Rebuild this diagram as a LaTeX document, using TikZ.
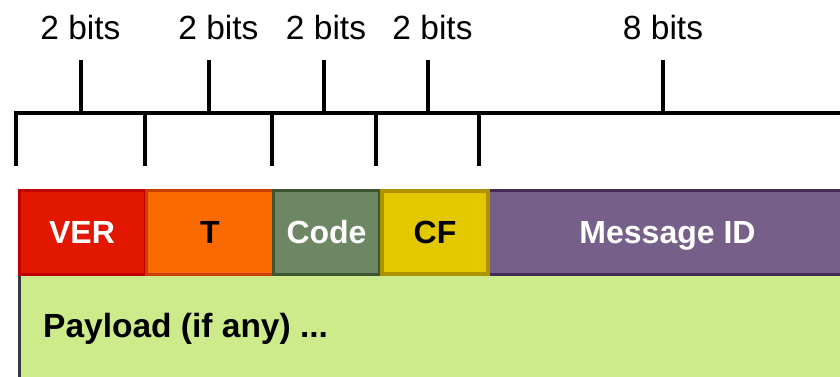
\documentclass[tikz,border=0pt]{standalone}
\usepackage{fontspec}
\setmainfont{Liberation Sans}
\definecolor{verF}{HTML}{E31600}\definecolor{verD}{HTML}{C00000}
\definecolor{tF}{HTML}{F96A00}\definecolor{tD}{HTML}{C84000}
\definecolor{codeF}{HTML}{6D8764}\definecolor{codeD}{HTML}{3E5532}
\definecolor{cfF}{HTML}{E3C800}\definecolor{cfD}{HTML}{AE9300}
\definecolor{msgF}{HTML}{76608A}\definecolor{msgD}{HTML}{432D57}
\definecolor{payF}{HTML}{CDEB8B}\definecolor{payD}{HTML}{36393D}
\tikzset{
  field/.style={rectangle, line width=3pt, anchor=north west, minimum height=84pt, inner sep=0pt,
    text height=22.5pt, text depth=0pt, font=\fontsize{32}{36}\selectfont\bfseries},
  bitlabel/.style={anchor=base, inner sep=0pt, font=\fontsize{33.5}{38}\selectfont},
  brace/.style={line width=4pt, black}
}
\begin{document}
\begin{tikzpicture}[x=1pt,y=-1pt]
\useasboundingbox (0,0) rectangle (840,376);
\clip (0,0) rectangle (840,376);
% payload
\node[field, fill=payF, draw=payD, minimum width=830pt, minimum height=110pt] (pay) at (17.5,272.5) {};
\node[anchor=base west, inner sep=0pt, font=\fontsize{33.5}{38}\selectfont\bfseries] (paytext) at (43,337) {Payload (if any) ...};
% top row
\node[field, fill=verF, draw=verD, minimum width=126pt, text=white] (ver) at (17.5,188.5) {VER};
\node[field, fill=tF, draw=tD, minimum width=127pt] (t) at (145,188.5) {T};
\node[field, fill=codeF, draw=codeD, minimum width=106pt, text=white] (code) at (272,188.5) {Code};
\node[field, fill=msgF, draw=msgD, minimum width=360pt, text=white] (msg) at (486,188.5) {Message ID};
\node[field, fill=cfF, draw=cfD, line width=4pt, minimum width=106pt, minimum height=83pt] (cf) at (380,189) {CF};
% brackets
\draw[brace] (16,113) -- (845,113);
\foreach \x in {16,145,272,376,479} \draw[brace] (\x,111) -- (\x,166);
\foreach \x in {81,209,324,428,663} \draw[brace] (\x,60) -- (\x,115);
% labels
\node[bitlabel] (b1) at (80.5,39) {2 bits};
\node[bitlabel] (b2) at (218.5,39) {2 bits};
\node[bitlabel] (b3) at (326,39) {2 bits};
\node[bitlabel] (b4) at (432.5,39) {2 bits};
\node[bitlabel] (b5) at (663,39) {8 bits};
\end{tikzpicture}
\end{document}
